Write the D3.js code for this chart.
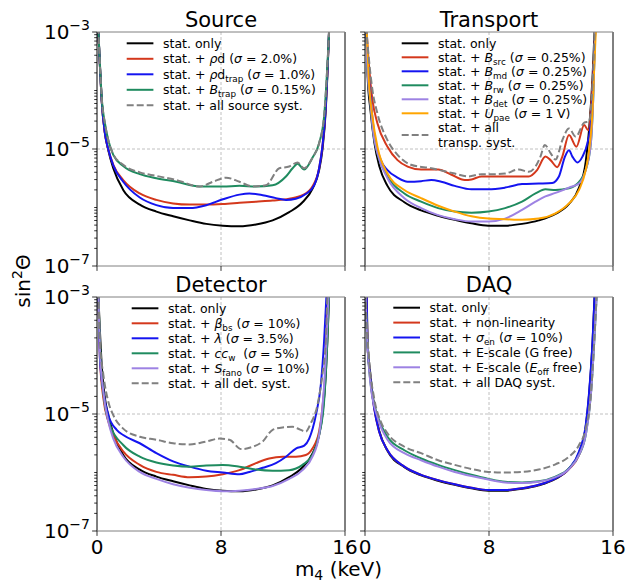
<!DOCTYPE html>
<html>
<head>
<meta charset="utf-8">
<script src="https://cdn.jsdelivr.net/npm/d3@7.9.0/dist/d3.min.js"></script>
<style>
  body { margin: 0; background: #fff; }
  svg { display: block; font-family: "DejaVu Sans", sans-serif; }
  text { white-space: pre; }
</style>
</head>
<body>
<svg id="chart" width="636" height="582"></svg>
<script>
// every point is [m4 in keV, log10(sin²Θ)]
// stat. only, as drawn in the left column and in the right column
const statOnly = [[0.0,-2.4],[0.09,-3.0],[0.19,-3.59],[0.30,-4.16],[0.51,-4.73],[0.73,-5.02],[1.05,-5.33],[1.69,-5.70],[2.76,-5.95],[3.83,-6.07],[4.91,-6.15],[5.98,-6.22],[7.05,-6.28],[8.12,-6.31],[9.19,-6.32],[10.26,-6.29],[11.33,-6.22],[12.4,-6.08],[13.26,-5.91],[13.9,-5.68],[14.33,-5.36],[14.54,-5.02],[14.76,-4.33],[14.86,-3.76],[14.97,-3.0],[15.05,-2.4]];
const statOnlyR = [[0.0,-2.4],[0.11,-3.0],[0.17,-3.76],[0.35,-4.33],[0.61,-4.90],[0.93,-5.30],[1.45,-5.63],[2.54,-5.91],[3.62,-6.05],[4.72,-6.14],[5.79,-6.21],[6.87,-6.27],[7.96,-6.31],[9.04,-6.31],[10.13,-6.28],[11.21,-6.22],[12.29,-6.11],[13.16,-5.94],[13.81,-5.66],[14.24,-5.22],[14.46,-4.66],[14.68,-3.78],[14.81,-3.0],[14.9,-2.4]];

// Source
const srcRhoD = [[0.0,-2.4],[0.09,-3.0],[0.19,-3.59],[0.30,-4.16],[0.51,-4.73],[0.73,-5.01],[1.05,-5.27],[1.69,-5.53],[2.76,-5.76],[3.83,-5.87],[4.91,-5.93],[5.98,-5.95],[7.05,-5.95],[8.12,-5.94],[9.19,-5.92],[10.26,-5.90],[11.33,-5.88],[12.4,-5.85],[13.26,-5.79],[13.9,-5.64],[14.33,-5.33],[14.54,-4.96],[14.76,-4.28],[14.86,-3.71],[14.97,-3.0],[15.05,-2.4]];
const srcRhoDTrap = [[0.0,-2.4],[0.09,-3.0],[0.19,-3.59],[0.30,-4.16],[0.51,-4.73],[0.73,-5.01],[1.05,-5.28],[1.69,-5.56],[2.76,-5.83],[3.83,-5.96],[4.91,-6.01],[5.98,-6.01],[7.05,-5.96],[8.12,-5.86],[9.19,-5.78],[9.83,-5.76],[10.69,-5.79],[11.54,-5.84],[12.19,-5.87],[12.83,-5.85],[13.47,-5.77],[14.01,-5.62],[14.33,-5.33],[14.54,-4.96],[14.76,-4.28],[14.86,-3.71],[14.97,-3.0],[15.05,-2.4]];
const srcBTrap = [[0.0,-2.4],[0.09,-3.0],[0.19,-3.55],[0.30,-4.11],[0.51,-4.56],[0.73,-4.85],[1.05,-5.10],[1.69,-5.29],[2.76,-5.43],[3.83,-5.50],[5.12,-5.56],[6.62,-5.64],[8.12,-5.64],[9.19,-5.63],[10.26,-5.64],[11.33,-5.62],[12.19,-5.47],[12.62,-5.33],[12.94,-5.25],[13.37,-5.35],[13.9,-5.15],[14.33,-4.90],[14.65,-4.45],[14.86,-3.59],[14.97,-3.0],[15.05,-2.4]];
const srcAll = [[0.0,-2.4],[0.09,-3.0],[0.19,-3.55],[0.30,-4.11],[0.51,-4.56],[0.73,-4.85],[1.05,-5.09],[1.69,-5.27],[2.76,-5.40],[3.83,-5.46],[5.12,-5.53],[6.62,-5.64],[7.48,-5.56],[8.33,-5.49],[9.19,-5.56],[10.05,-5.64],[10.9,-5.62],[11.76,-5.33],[12.4,-5.30],[12.94,-5.23],[13.37,-5.33],[13.9,-5.15],[14.33,-4.90],[14.65,-4.45],[14.86,-3.59],[14.97,-3.0],[15.05,-2.4]];

// Transport
const trBSrc = [[0.0,-2.4],[0.11,-3.0],[0.26,-3.59],[0.48,-4.16],[0.80,-4.56],[1.45,-4.96],[2.10,-5.19],[2.75,-5.30],[3.62,-5.35],[4.72,-5.35],[5.58,-5.44],[6.44,-5.53],[6.87,-5.52],[7.52,-5.47],[8.39,-5.47],[9.48,-5.47],[10.56,-5.47],[11.10,-5.36],[11.64,-5.13],[11.97,-5.19],[12.40,-5.31],[12.73,-5.13],[13.16,-4.76],[13.64,-4.96],[14.14,-4.59],[14.4,-4.68],[14.68,-3.88],[14.85,-3.0],[14.95,-2.4]];
const trBMd = [[0.0,-2.4],[0.09,-3.0],[0.20,-3.59],[0.37,-4.16],[0.59,-4.73],[1.02,-5.19],[1.45,-5.36],[2.10,-5.49],[2.75,-5.56],[3.62,-5.55],[4.28,-5.53],[4.92,-5.56],[5.79,-5.63],[6.87,-5.69],[7.96,-5.69],[9.04,-5.66],[10.13,-5.60],[11.21,-5.59],[12.08,-5.58],[12.51,-5.47],[12.90,-5.13],[13.16,-5.02],[13.38,-5.13],[13.70,-5.23],[14.03,-5.13],[14.35,-4.90],[14.57,-4.56],[14.72,-3.88],[14.85,-3.0],[14.95,-2.4]];
const trBRw = [[0.0,-2.4],[0.09,-3.0],[0.15,-3.59],[0.33,-4.16],[0.54,-4.73],[0.80,-5.07],[1.45,-5.47],[2.54,-5.76],[3.62,-5.90],[4.72,-6.01],[5.79,-6.07],[6.87,-6.09],[7.96,-6.07],[9.04,-6.01],[10.13,-5.90],[11.0,-5.76],[11.64,-5.69],[12.29,-5.70],[13.16,-5.67],[13.81,-5.56],[14.24,-5.36],[14.57,-4.90],[14.72,-4.16],[14.85,-3.0],[14.95,-2.4]];
const trBDet = [[0.0,-2.4],[0.09,-3.0],[0.15,-3.59],[0.33,-4.16],[0.54,-4.73],[0.80,-5.07],[1.45,-5.50],[2.54,-5.84],[3.62,-6.01],[4.72,-6.13],[5.79,-6.20],[6.87,-6.24],[7.96,-6.24],[9.04,-6.19],[10.13,-6.04],[11.0,-5.90],[11.64,-5.81],[12.29,-5.75],[13.16,-5.66],[13.81,-5.59],[14.24,-5.36],[14.57,-4.90],[14.72,-4.16],[14.85,-3.0],[14.95,-2.4]];
const trUPae = [[0.0,-2.4],[0.11,-3.0],[0.26,-3.88],[0.48,-4.45],[0.80,-4.96],[1.45,-5.42],[2.54,-5.70],[3.62,-5.84],[4.72,-5.97],[5.79,-6.07],[6.87,-6.15],[7.96,-6.19],[9.04,-6.20],[10.13,-6.21],[11.21,-6.19],[12.29,-6.10],[13.16,-5.93],[13.81,-5.70],[14.24,-5.36],[14.46,-5.02],[14.68,-4.33],[14.79,-3.59],[14.89,-3.0],[15.0,-2.4]];
const trAll = [[0.0,-2.4],[0.11,-3.0],[0.26,-3.48],[0.48,-3.99],[0.80,-4.39],[1.45,-4.85],[2.10,-5.10],[2.97,-5.27],[4.28,-5.33],[5.79,-5.42],[6.66,-5.47],[7.52,-5.43],[8.39,-5.43],[9.04,-5.42],[9.91,-5.35],[10.56,-5.39],[11.0,-5.30],[11.32,-5.13],[11.6,-4.93],[11.97,-5.07],[12.29,-5.18],[12.73,-4.85],[13.16,-4.65],[13.6,-4.79],[14.14,-4.55],[14.46,-4.53],[14.68,-3.88],[14.82,-3.0],[14.92,-2.4]];

// Detector
const detBetaBs = [[0.0,-2.4],[0.09,-3.0],[0.19,-4.05],[0.41,-4.73],[0.73,-5.13],[1.05,-5.36],[1.69,-5.64],[2.76,-5.87],[3.83,-5.99],[4.91,-6.04],[5.98,-6.08],[7.05,-6.07],[8.12,-6.03],[9.19,-5.96],[10.26,-5.84],[11.11,-5.76],[11.97,-5.73],[12.83,-5.73],[13.47,-5.70],[13.9,-5.59],[14.33,-5.30],[14.54,-4.90],[14.76,-4.05],[14.86,-3.0],[14.95,-2.4]];
const detLambda = [[0.0,-2.4],[0.09,-3.0],[0.19,-4.05],[0.41,-4.62],[0.73,-5.02],[1.27,-5.27],[1.69,-5.36],[2.76,-5.50],[3.83,-5.67],[4.91,-5.81],[5.98,-5.90],[7.05,-5.97],[8.12,-6.00],[9.19,-6.03],[9.83,-5.99],[10.69,-5.92],[11.54,-5.84],[12.19,-5.73],[12.83,-5.59],[13.37,-5.54],[13.69,-5.42],[14.12,-5.02],[14.44,-4.50],[14.65,-3.76],[14.80,-3.0],[14.9,-2.4]];
const detCcW = [[0.0,-2.4],[0.09,-3.0],[0.23,-4.05],[0.45,-4.73],[0.84,-5.19],[1.69,-5.53],[2.76,-5.73],[3.83,-5.83],[4.91,-5.88],[5.98,-5.90],[7.05,-5.88],[8.12,-5.87],[9.19,-5.90],[10.26,-5.95],[11.33,-5.97],[12.4,-5.96],[13.26,-5.87],[13.9,-5.70],[14.33,-5.36],[14.65,-4.79],[14.86,-3.76],[14.97,-3.0],[15.05,-2.4]];
const detSFano = [[0.0,-2.4],[0.09,-3.0],[0.19,-3.93],[0.41,-4.62],[0.73,-5.13],[1.05,-5.42],[1.69,-5.73],[2.76,-5.99],[3.83,-6.11],[4.91,-6.20],[5.98,-6.26],[7.05,-6.30],[8.12,-6.32],[9.19,-6.31],[10.26,-6.28],[11.33,-6.23],[12.4,-6.11],[13.26,-5.96],[13.9,-5.73],[14.33,-5.36],[14.54,-4.90],[14.76,-4.05],[14.93,-3.0],[15.02,-2.4]];
const detAll = [[0.0,-2.4],[0.09,-3.0],[0.19,-3.76],[0.41,-4.33],[0.73,-4.79],[1.05,-5.02],[1.69,-5.25],[2.76,-5.39],[3.83,-5.44],[4.91,-5.50],[5.98,-5.52],[7.05,-5.47],[7.91,-5.42],[8.55,-5.44],[9.30,-5.60],[10.05,-5.56],[10.69,-5.47],[11.33,-5.27],[11.97,-5.23],[12.62,-5.22],[13.05,-5.26],[13.47,-5.30],[13.79,-5.16],[14.22,-4.85],[14.54,-4.33],[14.76,-3.76],[14.86,-3.0],[14.95,-2.4]];

// DAQ
const daqNonLin = [[0.0,-2.4],[0.11,-3.0],[0.15,-3.76],[0.33,-4.33],[0.59,-4.90],[0.91,-5.30],[1.45,-5.62],[2.54,-5.90],[3.62,-6.04],[4.72,-6.13],[5.79,-6.20],[6.87,-6.26],[7.96,-6.30],[9.04,-6.30],[10.13,-6.27],[11.21,-6.21],[12.29,-6.10],[13.16,-5.94],[13.81,-5.70],[14.24,-5.30],[14.46,-4.85],[14.72,-3.76],[14.89,-3.0],[15.0,-2.4]];
const daqSigmaEn = [[0.0,-2.4],[0.11,-3.0],[0.15,-3.76],[0.33,-4.33],[0.59,-4.90],[0.91,-5.30],[1.45,-5.62],[2.54,-5.90],[3.62,-6.04],[4.72,-6.13],[5.79,-6.20],[6.87,-6.26],[7.96,-6.30],[9.04,-6.30],[10.13,-6.27],[11.21,-6.21],[12.29,-6.10],[13.16,-5.93],[13.81,-5.64],[14.24,-5.19],[14.46,-4.62],[14.68,-3.76],[14.81,-3.0],[14.9,-2.4]];
const daqGFree = [[0.0,-2.4],[0.04,-3.0],[0.15,-3.76],[0.37,-4.50],[0.80,-5.02],[1.45,-5.39],[2.54,-5.62],[3.62,-5.76],[4.72,-5.87],[5.79,-5.96],[6.87,-6.04],[7.96,-6.11],[9.04,-6.16],[10.13,-6.17],[11.21,-6.15],[12.29,-6.07],[13.16,-5.93],[13.81,-5.70],[14.24,-5.36],[14.57,-4.68],[14.79,-3.76],[14.94,-3.0],[15.05,-2.4]];
const daqEoffFree = [[0.0,-2.4],[0.04,-3.0],[0.15,-3.76],[0.37,-4.52],[0.80,-5.05],[1.45,-5.44],[2.54,-5.67],[3.62,-5.79],[4.72,-5.90],[5.79,-5.99],[6.87,-6.06],[7.96,-6.12],[9.04,-6.17],[10.13,-6.18],[11.21,-6.16],[12.29,-6.08],[13.16,-5.94],[13.81,-5.70],[14.24,-5.36],[14.57,-4.68],[14.79,-3.76],[14.94,-3.0],[15.05,-2.4]];
const daqAll = [[0.0,-2.4],[0.04,-3.0],[0.26,-4.05],[0.59,-4.73],[1.02,-5.13],[1.45,-5.33],[2.54,-5.56],[3.62,-5.67],[4.72,-5.79],[5.79,-5.87],[6.87,-5.94],[7.96,-5.99],[9.04,-6.00],[10.13,-5.99],[11.21,-5.95],[12.29,-5.86],[13.16,-5.73],[13.81,-5.53],[14.24,-5.25],[14.57,-4.68],[14.79,-3.76],[14.94,-3.0],[15.05,-2.4]];

// legend labels (*x* = italic, _{x} = subscript, \n = new line)
const srcLabels = ['stat. only', 'stat. + *ρ*d (*σ* = 2.0%)', 'stat. + *ρ*d_{trap} (*σ* = 1.0%)', 'stat. + *B*_{trap} (*σ* = 0.15%)', 'stat. + all source syst.'];
const trLabels = ['stat. only', 'stat. + *B*_{src} (*σ* = 0.25%)', 'stat. + *B*_{md} (*σ* = 0.25%)', 'stat. + *B*_{rw} (*σ* = 0.25%)', 'stat. + *B*_{det} (*σ* = 0.25%)', 'stat. + *U*_{pae} (*σ* = 1 V)', 'stat. + all\ntransp. syst.'];
const detLabels = ['stat. only', 'stat. + *β*_{bs} (*σ* = 10%)', 'stat. + *λ* (*σ* = 3.5%)', 'stat. + *cc*_{w}  (*σ* = 5%)', 'stat. + *S*_{fano} (*σ* = 10%)', 'stat. + all det. syst.'];
const daqLabels = ['stat. only', 'stat. + non-linearity', 'stat. + *σ*_{en} (*σ* = 10%)', 'stat. + E-scale (G free)', 'stat. + E-scale (*E*_{off} free)', 'stat. + all DAQ syst.'];

const xTicks = [0, 8, 16];
const yMajor = [1e-7, 1e-5, 1e-3];
const yMajorExp = ['−7', '−5', '−3'];

const BLACK = '#000', RED = '#d4381c', BLUE = '#1414f0', GREEN = '#1f8b5f',
      PURPLE = '#9d82e3', ORANGE = '#ffa500', GRAY = '#808080';

const panels = [
  { title: 'Source', left: 97, top: 32, yLab: true, xLab: false, leg: [29.7, 11.3, 15.5],
    series: [statOnly, srcRhoD, srcRhoDTrap, srcBTrap, srcAll], labels: srcLabels,
    colors: [BLACK, RED, BLUE, GREEN, GRAY] },
  { title: 'Transport', left: 365, top: 32, yLab: false, xLab: false, leg: [36.7, 11.3, 14],
    series: [statOnlyR, trBSrc, trBMd, trBRw, trBDet, trUPae, trAll], labels: trLabels,
    colors: [BLACK, RED, BLUE, GREEN, PURPLE, ORANGE, GRAY] },
  { title: 'Detector', left: 97, top: 297, yLab: true, xLab: true, leg: [34.7, 11.3, 15],
    series: [statOnly, detBetaBs, detLambda, detCcW, detSFano, detAll], labels: detLabels,
    colors: [BLACK, RED, BLUE, GREEN, PURPLE, GRAY] },
  { title: 'DAQ', left: 365, top: 297, yLab: false, xLab: true, leg: [28.3, 10.7, 14.9],
    series: [statOnlyR, daqNonLin, daqSigmaEn, daqGFree, daqEoffFree, daqAll], labels: daqLabels,
    colors: [BLACK, RED, BLUE, GREEN, PURPLE, GRAY] }
];

const W = 248, H = 234;
const x = d3.scaleLinear().domain([0, 16]).range([0, W]);
const y = d3.scaleLog().domain([1e-7, 1e-3]).range([H, 0]);
const line = d3.line().x(d => x(d[0])).y(d => y(10 ** d[1])).curve(d3.curveMonotoneX);

const minorTicks = d3.range(-7, -3).flatMap(e => d3.range(1, 10).map(k => ({ k, e })))
  .filter(t => !(t.k === 1 && (t.e === -7 || t.e === -5)))
  .map(t => t.k * 10 ** t.e);

const svg = d3.select('#chart');

function richText(sel, str, subSize, subDy) {
  const parts = str.split(/(\*[^*]+\*|_\{[^}]+\})/).filter(s => s !== '');
  let down = 0;
  parts.forEach(p => {
    const t = sel.append('tspan');
    if (p.startsWith('_{')) {
      t.text(p.slice(2, -1)).attr('font-size', subSize).attr('dy', subDy);
      down = subDy;
    } else {
      const it = p.startsWith('*');
      t.text(it ? p.slice(1, -1) : p);
      if (it) t.attr('font-style', 'italic');
      if (down) { t.attr('dy', -down); down = 0; }
    }
  });
}

panels.forEach((p, pi) => {
  const g = svg.append('g').attr('transform', `translate(${p.left},${p.top})`);

  g.append('clipPath').attr('id', 'clip' + pi)
    .append('rect').attr('width', W).attr('height', H);

  // grid
  g.append('line').attr('x1', x(8)).attr('x2', x(8)).attr('y1', 0).attr('y2', H)
    .attr('stroke', '#b0b0b0').attr('stroke-width', 0.8).attr('stroke-dasharray', '3,2');
  g.append('line').attr('x1', 0).attr('x2', W).attr('y1', y(1e-5)).attr('y2', y(1e-5))
    .attr('stroke', '#b0b0b0').attr('stroke-width', 0.8).attr('stroke-dasharray', '3,2');

  // curves
  g.append('g').attr('clip-path', `url(#clip${pi})`)
    .selectAll('path').data(p.series).enter().append('path')
    .attr('d', line)
    .attr('fill', 'none')
    .attr('stroke', (_, i) => p.colors[i])
    .attr('stroke-width', 2)
    .attr('stroke-dasharray', (_, i) => p.colors[i] === GRAY ? '7,3' : null);

  // spines
  g.append('line').attr('x1', 0).attr('x2', 0).attr('y1', 0).attr('y2', H).attr('stroke', '#000');
  g.append('line').attr('x1', W).attr('x2', W).attr('y1', 0).attr('y2', H).attr('stroke', '#000');
  g.append('line').attr('x1', 0).attr('x2', W).attr('y1', 0).attr('y2', 0).attr('stroke', '#808080');
  g.append('line').attr('x1', 0).attr('x2', W).attr('y1', H).attr('stroke', '#808080').attr('y2', H);

  // y ticks
  g.selectAll('.ymin').data(minorTicks).enter().append('line')
    .attr('x1', -2.8).attr('x2', 0).attr('y1', d => y(d)).attr('y2', d => y(d))
    .attr('stroke', '#000').attr('stroke-width', 0.8);
  g.selectAll('.ymaj').data(yMajor).enter().append('line')
    .attr('x1', -4.9).attr('x2', 0).attr('y1', d => y(d)).attr('y2', d => y(d))
    .attr('stroke', '#000').attr('stroke-width', 0.8);
  // x ticks
  g.selectAll('.xmaj').data(xTicks).enter().append('line')
    .attr('x1', d => x(d)).attr('x2', d => x(d)).attr('y1', H).attr('y2', H + 4.9)
    .attr('stroke', '#000').attr('stroke-width', 0.8);

  if (p.yLab) {
    yMajor.forEach((v, i) => {
      const t = g.append('text').attr('x', -7).attr('y', y(v) + 7.3)
        .attr('text-anchor', 'end').attr('font-size', 20);
      t.append('tspan').text('10');
      t.append('tspan').text(yMajorExp[i]).attr('font-size', 14).attr('dy', -9.5);
    });
  }
  if (p.xLab) {
    g.selectAll('.xl').data(xTicks).enter().append('text')
      .attr('x', d => x(d)).attr('y', H + 23).attr('text-anchor', 'middle')
      .attr('font-size', 20).text(d => d);
  }

  // title
  g.append('text').attr('x', W / 2).attr('y', -5.5).attr('text-anchor', 'middle')
    .attr('font-size', 21).text(p.title);

  // legend
  const [lx, ly, gap] = p.leg;
  const lineH = 15.6;
  let pos = ly;
  p.labels.forEach((lab, i) => {
    const rows = lab.split('\n');
    const cy = pos + (rows.length - 1) * lineH / 2;
    g.append('line').attr('x1', lx).attr('x2', lx + 26.7).attr('y1', cy).attr('y2', cy)
      .attr('stroke', p.colors[i]).attr('stroke-width', 2)
      .attr('stroke-dasharray', p.colors[i] === GRAY ? '7,3' : null);
    rows.forEach((r, k) => {
      const t = g.append('text').attr('x', lx + 36.3).attr('y', pos + k * lineH + 4.4)
        .attr('font-size', 12.5);
      richText(t, r, 8.8, 3);
    });
    pos += gap + (rows.length - 1) * lineH;
  });
});

// axis labels
const yl = svg.append('text').attr('transform', 'translate(30,281) rotate(-90)')
  .attr('text-anchor', 'middle').attr('font-size', 20);
yl.append('tspan').text('sin');
yl.append('tspan').text('2').attr('font-size', 14).attr('dy', -8);
yl.append('tspan').text('Θ').attr('dy', 8);

const xl = svg.append('text').attr('x', 338.5).attr('y', 575.5)
  .attr('text-anchor', 'middle').attr('font-size', 20);
xl.append('tspan').text('m');
xl.append('tspan').text('4').attr('font-size', 14).attr('dy', 4);
xl.append('tspan').text(' (keV)').attr('dy', -4);
</script>
</body>
</html>
